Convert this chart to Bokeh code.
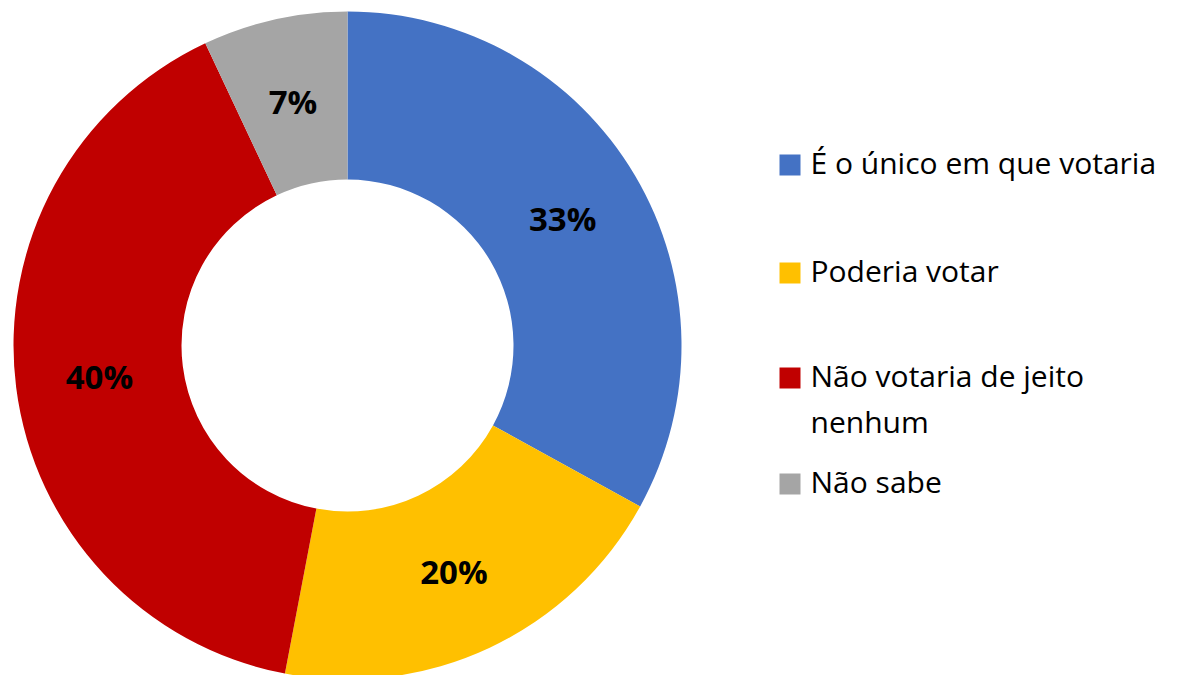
import math
from bokeh.plotting import figure
from bokeh.models import ColumnDataSource, Range1d
from bokeh.core.properties import value
from bokeh.embed import file_html
from bokeh.resources import INLINE

# ---- data ----
categories = ["É o único em que votaria", "Poderia votar", "Não votaria de jeito\nnenhum", "Não sabe"]
values = [33, 20, 40, 7]
colors = ["#4472C4", "#FFC000", "#C00000", "#A5A5A5"]

# ---- layout ----
W, H = 1188, 675
cx, cy = 347, 330
r_out, r_in = 334, 166
r_lab = 250
leg_sq_x = 789.5
leg_sq = 21
leg_sq_y = [510.5, 402.5, 297.5, 191.5]
leg_txt_x = 810
leg_txt_y = [513, 405, 300, 194]
leg_line_h = 46

p = figure(width=W, height=H, output_backend="svg", toolbar_location=None,
           x_range=Range1d(0, W), y_range=Range1d(0, H), min_border=0)
p.axis.visible = False
p.grid.visible = False
p.outline_line_color = None

total = sum(values)
starts, ends, lx, ly, labels = [], [], [], [], []
cum = 0
for v in values:
    a0 = math.pi / 2 - 2 * math.pi * cum / total
    a1 = math.pi / 2 - 2 * math.pi * (cum + v) / total
    starts.append(a0)
    ends.append(a1)
    mid = (a0 + a1) / 2
    lx.append(cx + r_lab * math.cos(mid))
    ly.append(cy + r_lab * math.sin(mid))
    labels.append(f"{v}%")
    cum += v

src = ColumnDataSource(dict(start=starts, end=ends, color=colors))
p.annular_wedge(x=cx, y=cy, inner_radius=r_in, outer_radius=r_out,
                start_angle="start", end_angle="end", direction="clock",
                fill_color="color", line_color=None, source=src)

p.text(x=lx, y=ly, text=labels, text_align="center", text_baseline="middle",
       text_font=value("Open Sans"), text_font_style="bold", text_font_size="33px",
       text_color="black")

# legend
p.rect(x=[leg_sq_x] * len(categories), y=leg_sq_y, width=leg_sq, height=leg_sq,
       fill_color=colors, line_color=None)
tx, ty, tt = [], [], []
for cat, y0 in zip(categories, leg_txt_y):
    for i, line in enumerate(cat.split("\n")):
        tx.append(leg_txt_x)
        ty.append(y0 - i * leg_line_h)
        tt.append(line)
p.text(x=tx, y=ty, text=tt, text_align="left", text_baseline="alphabetic",
       text_font=value("Open Sans"), text_font_size="30px", text_color="black")

open("out.html", "w").write(file_html(p, INLINE))
